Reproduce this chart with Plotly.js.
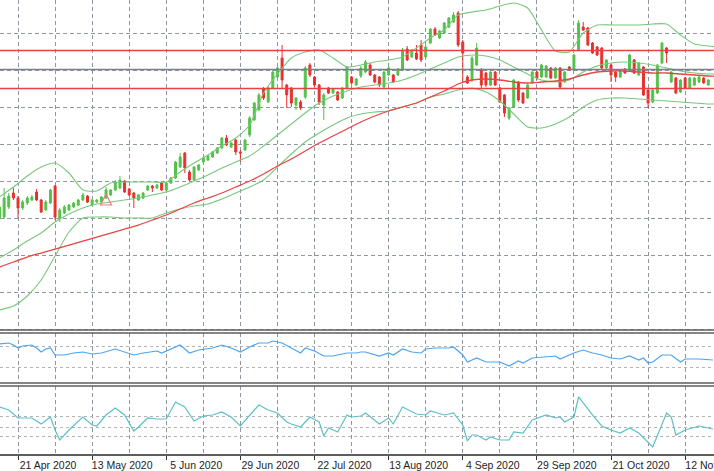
<!DOCTYPE html>
<html>
<head>
<meta charset="utf-8">
<script src="https://cdn.plot.ly/plotly-3.0.1.min.js"></script>
<style>
  html, body { margin: 0; padding: 0; background: #fff; }
  #chart { width: 714px; height: 471px; }
</style>
</head>
<body>
<div id="chart"></div>
<script>
// daily bars, values (no price scale visible, so units are estimated)
var open = [
  10520,10530,10630,10770,10720,10620,10670,10700,10780,10700,
  10600,10670,10840,10520,10570,10600,10630,10650,10700,10740,
  10650,10680,10680,10720,10750,10800,10820,10890,10810,10770,
  10700,10720,10800,10840,10820,10870,10800,10870,10920,11030,
  11170,10980,10900,11000,11080,11100,11130,11170,11220,11320,
  11230,11300,11180,11200,11350,11500,11600,11810,11680,11820,
  11930,12120,11850,11820,11650,11680,11730,12050,11930,11850,
  11650,11820,11770,11780,11720,11820,11930,11850,11940,11980,
  12050,11950,11930,11830,11950,11950,11950,12000,12210,12130,
  12170,12250,12130,12270,12410,12320,12370,12430,12480,12570,
  12280,11930,11900,12050,12000,11970,11850,11980,11820,11750,
  11520,11630,11880,11770,11720,11870,11980,11930,11930,12020,
  11920,12020,11880,12030,12000,12200,12430,12420,12270,12230,
  12220,12020,12050,11980,11930,12010,12000,12100,11950,12030,
  11800,11680,11770,12070,12220,11880,11920,11780,11920,11820,
  11850,11880,11920,11850
];
var high = [
  10650,10820,10770,10820,10740,10700,10740,10750,10810,10710,
  10700,10810,10850,10620,10650,10660,10680,10710,10770,10750,
  10710,10710,10740,10830,10810,10900,10940,10900,10820,10780,
  10760,10780,10850,10850,10860,10880,10880,10930,11090,11170,
  11180,11000,11040,11060,11130,11150,11190,11230,11330,11350,
  11280,11310,11200,11310,11540,11680,11770,11830,11840,12000,
  12040,12250,11860,11830,11730,11700,12040,12070,11940,11860,
  11770,11830,11820,11790,11830,12040,11940,11920,12040,12100,
  12070,11960,11940,12000,12040,11960,12020,12220,12240,12210,
  12250,12300,12240,12420,12430,12400,12480,12530,12580,12590,
  12300,11950,12140,12270,12020,11980,11990,11990,11830,11760,
  11630,11910,11890,11780,11860,11990,11990,12060,12050,12030,
  12030,12030,11990,12040,12160,12500,12480,12430,12280,12240,
  12230,12110,12060,11990,12010,12020,12160,12110,12080,12040,
  11810,11810,12060,12280,12230,11990,11930,11910,11930,11930,
  11930,11940,11930,11910
];
var low = [
  10500,10510,10610,10700,10520,10600,10650,10690,10690,10570,
  10590,10660,10500,10480,10560,10590,10620,10640,10690,10670,
  10640,10670,10670,10710,10740,10790,10810,10770,10740,10620,
  10690,10710,10790,10780,10810,10790,10790,10860,10910,11020,
  10970,10890,10890,10990,11070,11090,11120,11160,11210,11240,
  11220,11150,11080,11190,11330,11490,11590,11700,11670,11810,
  11920,11820,11620,11630,11600,11600,11710,11930,11830,11650,
  11500,11760,11760,11690,11710,11810,11860,11840,11920,11970,
  11940,11870,11830,11820,11940,11870,11940,11990,12090,12120,
  12100,12080,12120,12260,12340,12310,12360,12420,12470,12230,
  11870,11860,11880,12040,11820,11830,11840,11840,11670,11530,
  11500,11620,11680,11660,11710,11860,11900,11920,11920,11910,
  11910,11820,11870,11990,11990,12190,12390,12240,12160,12140,
  12010,12010,11880,11880,11920,11960,11990,11960,11940,11740,
  11620,11670,11760,12060,12070,11870,11760,11770,11810,11810,
  11840,11870,11860,11840
];
var close = [
  10630,10720,10740,10720,10620,10680,10720,10730,10700,10580,
  10680,10800,10530,10600,10630,10650,10670,10700,10750,10680,
  10700,10700,10730,10800,10800,10880,10900,10780,10750,10720,
  10750,10770,10840,10820,10850,10800,10870,10920,11080,11130,
  11020,10900,11030,11050,11120,11140,11180,11220,11320,11250,
  11270,11180,11170,11300,11520,11670,11750,11720,11820,11980,
  12020,11900,11750,11670,11720,11620,12020,11950,11850,11680,
  11750,11770,11810,11700,11820,12030,11870,11910,12020,12080,
  11950,11880,11850,11980,12020,11880,12010,12200,12100,12200,
  12110,12100,12230,12410,12350,12390,12470,12520,12550,12250,
  12170,11870,12120,12220,11850,11850,11980,11850,11680,11570,
  11620,11900,11700,11670,11850,11980,11920,12050,12040,11920,
  12020,11830,11980,12000,12150,12470,12400,12250,12170,12150,
  12020,12100,11950,11930,12000,11970,12150,11970,12070,11750,
  11670,11800,12050,12270,12170,11980,11770,11900,11820,11920,
  11920,11930,11870,11900
];

// bar numbers of the date labels
var labelBars = [4, 20, 36, 52, 68, 84, 100, 116, 132, 148];
var labelText = ['21 Apr 2020', '13 May 2020', '5 Jun 2020', '29 Jun 2020', '22 Jul 2020',
                 '13 Aug 2020', '4 Sep 2020', '29 Sep 2020', '21 Oct 2020', '12 Nov 2020'];

// bollinger bands and moving average, read every third bar
var bandBars = [0,3,6,9,12,15,18,21,24,27,30,33,36,39,42,45,48,51,54,57,60,63,66,69,72,75,
                78,81,84,87,90,93,96,99,102,105,108,111,114,117,120,123,126,129,132,135,138,
                141,144,147,150,153,155];
var bbUpper = [
  10730,10830,10940,11030,11070,10970,10800,10790,10870,10880,
  10880,10880,10880,10980,11070,11150,11240,11320,11450,11770,
  11960,12120,12180,12200,12120,12030,12050,12080,12100,12130,
  12220,12320,12400,12550,12580,12600,12640,12670,12620,12400,
  12190,12180,12370,12450,12450,12450,12450,12460,12460,12350,
  12260,12240,12230
];
var bbMiddle = [
  10120,10200,10290,10370,10480,10560,10620,10660,10680,10700,
  10720,10750,10780,10830,10890,10950,11020,11080,11140,11240,
  11350,11460,11570,11670,11740,11790,11830,11850,11870,11900,
  11950,12010,12070,12130,12150,12140,12100,12030,11960,11900,
  11880,11900,11980,12040,12070,12080,12070,12050,12020,11990,
  11970,11960,11960
];
var bbLower = [
  9600,9640,9740,9900,10140,10380,10520,10530,10530,10520,
  10520,10520,10570,10610,10640,10660,10710,10770,10830,10900,
  11030,11160,11280,11370,11450,11520,11560,11580,11590,11630,
  11670,11730,11760,11800,11820,11780,11690,11560,11430,11420,
  11460,11530,11630,11700,11720,11720,11710,11700,11690,11680,
  11670,11660,11660
];
var maSlow = [
  10030,10080,10130,10170,10210,10250,10290,10330,10370,10410,
  10450,10500,10550,10610,10670,10720,10770,10830,10890,10960,
  11040,11110,11190,11270,11340,11410,11480,11540,11590,11630,
  11670,11730,11790,11860,11900,11910,11900,11880,11870,11880,
  11890,11910,11950,11980,11990,11990,11980,11970,11970,11960,
  11950,11940,11940
];

// horizontal levels
var redLevels = [12195, 11815];
var bidLevel = 12005;

// arrow object on the chart
var arrowBar = [23];
var arrowPrice = [10760];

// first indicator window
var ind1Bars = [0,2,3,4,5,7,8,9,10,11,12,14,16,18,20,22,25,27,29,31,34,35,37,39,41,43,46,48,50,52,
                54,56,58,59,61,63,65,66,68,70,72,75,77,78,79,82,84,85,87,89,91,92,94,97,98,100,101,
                103,105,108,110,112,113,115,118,120,121,123,124,126,128,130,132,134,136,138,139,140,
                141,143,145,147,148,151,154];
var ind1Vals = [39,40,38,35,37,38,35,31,34,35,28,28,30,31,29,30,34,31,28,30,
                32,30,34,38,30,33,35,38,35,31,36,40,40,42,40,35,30,35,32,27,
                27,30,30,31,31,27,30,28,34,31,30,34,35,35,36,28,21,25,21,21,
                17,22,20,25,26,27,24,28,30,33,30,28,25,24,27,23,25,20,21,28,
                28,21,24,24,23];
var ind1Levels = [15, 37];

// second indicator window
var ind2Bars = [0,2,4,7,9,11,12,13,15,18,20,21,23,25,27,29,30,32,34,36,38,40,42,44,46,48,50,52,55,56,
                58,60,62,63,65,67,69,70,71,73,75,76,78,79,82,84,85,87,90,92,93,96,98,100,101,102,103,
                105,106,108,110,111,113,115,118,120,121,122,124,125,128,130,132,134,136,138,141,144,
                145,146,148,151,154];
var ind2Vals = [47,44,36,36,30,37,24,14,24,37,29,28,39,46,39,23,27,36,35,35,
                52,47,33,38,39,42,37,28,44,49,44,41,32,30,27,37,32,18,26,22,
                39,37,38,41,30,36,30,47,40,39,43,39,41,29,13,19,19,14,17,14,
                14,22,21,34,39,36,37,32,37,57,39,28,24,21,26,21,7,41,37,19,
                24,28,25];
var ind2Levels = [18, 27, 37];

var bars = open.map(function(v, i) { return i; });

var gridCol = '#8d97a1';
var bandCol = '#78c87b';
var upCol = '#52c249';
var downCol = '#e8302c';

var candles = {
    type: 'candlestick',
    x: bars, open: open, high: high, low: low, close: close,
    xaxis: 'x', yaxis: 'y',
    increasing: {line: {color: upCol, width: 1}, fillcolor: upCol},
    decreasing: {line: {color: downCol, width: 1}, fillcolor: downCol},
    whiskerwidth: 0,
    hoverinfo: 'skip'
};

function band(vals, color, width) {
    return {
        type: 'scatter', mode: 'lines',
        x: bandBars, y: vals,
        xaxis: 'x', yaxis: 'y',
        line: {color: color, width: width, shape: 'spline', smoothing: 0.6},
        hoverinfo: 'skip'
    };
}

var arrow = {
    type: 'scatter', mode: 'markers',
    x: arrowBar, y: arrowPrice,
    xaxis: 'x', yaxis: 'y',
    marker: {symbol: 'arrow-up-open', size: 11, color: '#ef7b7b', line: {color: '#ef7b7b', width: 1.2}},
    hoverinfo: 'skip'
};

var ind1 = {
    type: 'scatter', mode: 'lines',
    x: ind1Bars, y: ind1Vals,
    xaxis: 'x', yaxis: 'y2',
    line: {color: '#4aa5f3', width: 1.2},
    hoverinfo: 'skip'
};

var ind2 = {
    type: 'scatter', mode: 'lines',
    x: ind2Bars, y: ind2Vals,
    xaxis: 'x', yaxis: 'y3',
    line: {color: '#5cc0c6', width: 1.2},
    hoverinfo: 'skip'
};

var shapes = [];
redLevels.forEach(function(lv) {
    shapes.push({type: 'line', xref: 'paper', x0: 0, x1: 1, yref: 'y', y0: lv, y1: lv,
                 line: {color: '#ec4040', width: 1.5}});
});
shapes.push({type: 'line', xref: 'paper', x0: 0, x1: 1, yref: 'y', y0: bidLevel, y1: bidLevel,
             line: {color: '#77818b', width: 1.3}});
// window borders
[['y domain', 0], ['y2 domain', 1], ['y2 domain', 0], ['y3 domain', 1]].forEach(function(b) {
    shapes.push({type: 'line', xref: 'paper', x0: 0, x1: 1, yref: b[0], y0: b[1], y1: b[1],
                 line: {color: '#5e5e5e', width: 1.5}});
});

var hidden = {showticklabels: false, ticks: '', zeroline: false, showline: false, fixedrange: true};

var layout = {
    width: 714,
    height: 471,
    margin: {l: 0, r: 0, t: 0, b: 17},
    paper_bgcolor: '#ffffff',
    plot_bgcolor: '#ffffff',
    showlegend: false,
    boxgap: 0.4,
    xaxis: {
        anchor: 'y3',
        range: [0.11, 154.23],
        rangeslider: {visible: false},
        tickmode: 'array',
        tickvals: labelBars,
        ticktext: labelText,
        ticks: 'outside', ticklen: 4, tickwidth: 1, tickcolor: '#333',
        ticklabelshift: 30,
        ticklabelstandoff: -3,
        ticklabeloverflow: 'allow',
        tickfont: {family: 'Liberation Sans, Arial, sans-serif', size: 10.5, color: '#1e1e1e'},
        showline: true, linecolor: '#5e5e5e', linewidth: 1.5,
        showgrid: true, gridcolor: gridCol, gridwidth: 1, griddash: '4px,3px',
        minor: {tick0: 4, dtick: 8, showgrid: true, gridcolor: gridCol, gridwidth: 1, griddash: '4px,3px', ticks: ''},
        zeroline: false,
        fixedrange: true
    },
    yaxis: Object.assign({
        domain: [0.2731, 1], range: [9400, 12700], anchor: 'x',
        tick0: 9780, dtick: 370,
        showgrid: true, gridcolor: gridCol, gridwidth: 1, griddash: '4px,3px'
    }, hidden),
    yaxis2: Object.assign({
        domain: [0.1564, 0.2665], range: [0, 50], anchor: 'x',
        tickmode: 'array', tickvals: ind1Levels,
        showgrid: true, gridcolor: '#b3b3b3', gridwidth: 1, griddash: '3px,3px'
    }, hidden),
    yaxis3: Object.assign({
        domain: [0, 0.1498], range: [0, 68], anchor: 'x',
        tickmode: 'array', tickvals: ind2Levels,
        showgrid: true, gridcolor: '#b3b3b3', gridwidth: 1, griddash: '3px,3px'
    }, hidden),
    shapes: shapes
};

Plotly.newPlot('chart', [
    candles,
    band(bbUpper, bandCol, 1.1),
    band(bbMiddle, bandCol, 1.1),
    band(bbLower, bandCol, 1.1),
    band(maSlow, '#e84545', 1.3),
    arrow,
    ind1,
    ind2
], layout, {displayModeBar: false, staticPlot: true});
</script>
</body>
</html>
